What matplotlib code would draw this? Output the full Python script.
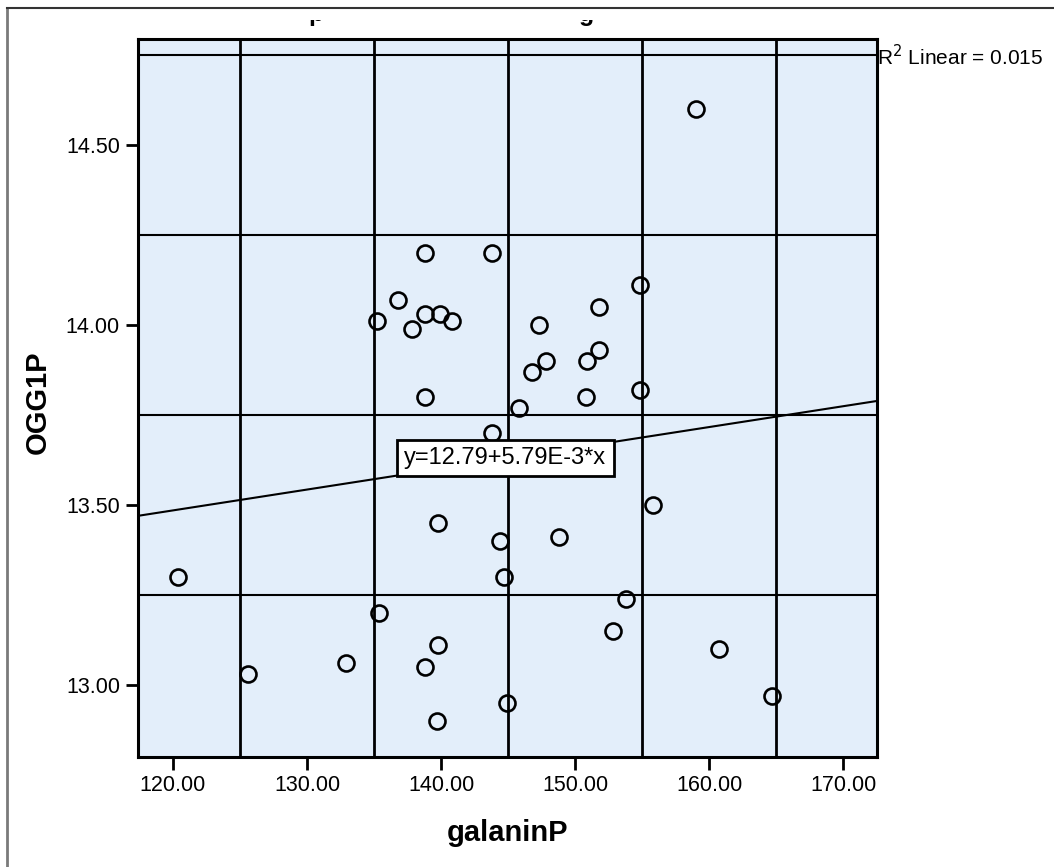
import matplotlib
matplotlib.use("Agg")
import matplotlib.pyplot as plt
from matplotlib.patches import Rectangle
from matplotlib.lines import Line2D
import numpy as np

plt.rcParams['font.family'] = ['Liberation Sans', 'DejaVu Sans']

# data
galaninP = [138.8, 143.8, 154.8, 136.8, 135.2, 138.8, 139.9, 140.8, 137.8, 151.8,
            147.3, 151.8, 147.8, 150.9, 146.8, 154.8, 138.8, 150.8, 145.8, 143.8,
            159.0, 139.8, 120.4, 144.4, 144.7, 135.4, 139.8, 132.9, 138.8, 125.6,
            139.7, 144.9, 155.8, 148.8, 153.8, 152.8, 160.7, 164.7]
OGG1P = [14.20, 14.20, 14.11, 14.07, 14.01, 14.03, 14.03, 14.01, 13.99, 14.05,
         14.00, 13.93, 13.90, 13.90, 13.87, 13.82, 13.80, 13.80, 13.77, 13.70,
         14.60, 13.45, 13.30, 13.40, 13.30, 13.20, 13.11, 13.06, 13.05, 13.03,
         12.90, 12.95, 13.50, 13.41, 13.24, 13.15, 13.10, 12.97]
intercept = 12.79
slope = 5.79e-3
r2 = 0.015
x_ticks = [120, 130, 140, 150, 160, 170]
y_ticks = [13.00, 13.50, 14.00, 14.50]
x_grid = [125, 135, 145, 155, 165]
y_grid = [13.25, 13.75, 14.25, 14.75]
xlim = (117.4, 172.5)
ylim = (12.80, 14.794)

W, H = 1054, 867
fig = plt.figure(figsize=(W / 100, H / 100), dpi=100)
ax = fig.add_axes([138 / W, 1 - 757 / H, (877 - 138) / W, (757 - 39) / H])
ax.set_facecolor('#E3EEFA')
ax.set_xlim(*xlim)
ax.set_ylim(*ylim)

for gx in x_grid:
    ax.axvline(gx, color='black', lw=2.0, zorder=1)
for gy in y_grid:
    ax.axhline(gy, color='black', lw=1.5, zorder=1)

xs = np.array(xlim)
ax.plot(xs, intercept + slope * xs, color='black', lw=1.5, zorder=2)

ax.plot(galaninP, OGG1P, linestyle='none', marker='o', markersize=11.5,
        markerfacecolor='none', markeredgecolor='black', markeredgewidth=1.9, zorder=3)

ax.text(144.8, 13.63, 'y=12.79+5.79E-3*x', fontsize=17, ha='center', va='center',
        zorder=4, bbox=dict(boxstyle='square,pad=0.3', facecolor='white',
                            edgecolor='black', linewidth=2))

ax.set_xticks(x_ticks)
ax.set_xticklabels([f'{v:.2f}' for v in x_ticks])
ax.set_yticks(y_ticks)
ax.set_yticklabels([f'{v:.2f}' for v in y_ticks])
ax.tick_params(axis='both', direction='out', length=9, width=2, labelsize=15.5,
               colors='black', pad=4)
for s in ax.spines.values():
    s.set_linewidth(2.2)
    s.set_color('black')

fig.text(508 / W, 1 - 833 / H, 'galaninP', fontsize=21, fontweight='bold',
         ha='center', va='center')
fig.text(38 / W, 1 - 402 / H, 'OGG1P', fontsize=21, fontweight='bold',
         ha='center', va='center', rotation=90)

fig.text(877 / W, 1 - 57 / H, r'R$^2$ Linear = ' + f'{r2:.3f}', fontsize=15,
         ha='left', va='center')

# clipped remnants of the title (only descenders visible)
clip = Rectangle((0, 1 - 30 / H), 1, 10 / H, transform=fig.transFigure, visible=False)
fig.add_artist(clip)
for tx, ch in [(316, 'p'), (587, 'g')]:
    t = fig.text(tx / W, 1 - 21 / H, ch, fontsize=18, fontweight='bold',
                 ha='center', va='baseline')
    t.set_clip_path(clip)
    t.set_clip_on(True)

# outer frame
fig.add_artist(Line2D([7 / W, 7 / W], [0, 1 - 8 / H], transform=fig.transFigure,
                      color='#7a7a7a', lw=2))
fig.add_artist(Line2D([7 / W, 1], [1 - 8 / H, 1 - 8 / H], transform=fig.transFigure,
                      color='#333333', lw=1.5))

fig.savefig('out.png', dpi=100, facecolor='white')
